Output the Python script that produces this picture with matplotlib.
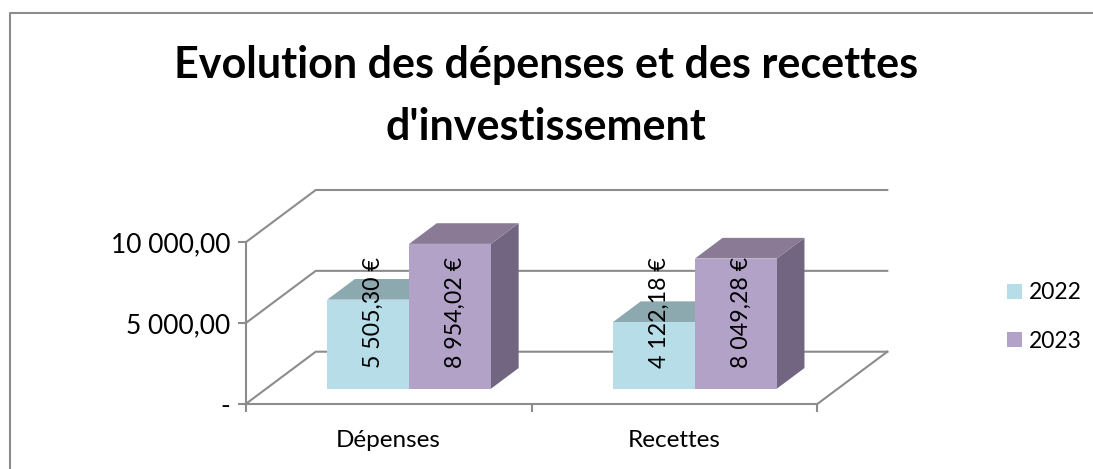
import matplotlib
matplotlib.use("Agg")
import matplotlib.pyplot as plt
from matplotlib.lines import Line2D
from matplotlib.patches import Polygon, Rectangle

categories = ["Dépenses", "Recettes"]
series_names = ["2022", "2023"]
values_2022 = [5505.30, 4122.18]
values_2023 = [8954.02, 8049.28]
labels_2022 = ["5 505,30 €", "4 122,18 €"]
labels_2023 = ["8 954,02 €", "8 049,28 €"]
y_ticks = [0, 5000, 10000]
y_tick_labels = ["-", "5 000,00", "10 000,00"]

W, H = 1093, 469
plt.rcParams["font.family"] = ["Lato", "DejaVu Sans"]
fig = plt.figure(figsize=(W / 100, H / 100), dpi=100)

# plot box in pixels, the front floor edge
ax = fig.add_axes([245.7 / W, 1 - 404 / H, 571.6 / W, 161.7 / H])
ax.set_xlim(0, 2)
ax.set_ylim(0, 10000)
ax.patch.set_visible(False)

grey = "#8c8c8c"
front = {"2022": "#b7dee8", "2023": "#b3a2c7"}
top = {"2022": "#8da9b0", "2023": "#8a7a96"}
side = {"2022": "#6f8a91", "2023": "#716582"}

# oblique depth of the floor, in data units
depth_x = 0.245
depth_y = 3234
bar_w = 0.2865
depth_start = 0.293
depth_end = 0.688


def shift(x, y, d):
    return (x + depth_x * d, y + depth_y * d)


def poly(points, color, z):
    ax.add_patch(Polygon(points, closed=True, facecolor=color, edgecolor="none",
                         clip_on=False, zorder=z))


# walls
for v in y_ticks:
    xs = [0, shift(0, v, 1)[0], shift(2, v, 1)[0]]
    ys = [v, shift(0, v, 1)[1], shift(2, v, 1)[1]]
    ax.plot(xs, ys, color=grey, lw=1.5, clip_on=False, zorder=1)
ax.plot([2, shift(2, 0, 1)[0]], [0, shift(2, 0, 1)[1]], color=grey, lw=1.5, clip_on=False, zorder=1)


def draw_bar(x0, v, name):
    a = shift(x0, 0, depth_start)
    b = shift(x0 + bar_w, 0, depth_start)
    c = shift(x0 + bar_w, v, depth_start)
    d = shift(x0, v, depth_start)
    e = shift(x0, v, depth_end)
    f = shift(x0 + bar_w, v, depth_end)
    g = shift(x0 + bar_w, 0, depth_end)
    poly([b, g, f, c], side[name], 3)
    poly([d, c, f, e], top[name], 3)
    poly([a, b, c, d], front[name], 3)


for i in range(len(categories)):
    x_mid = i + 0.5
    draw_bar(x_mid - bar_w, values_2022[i], "2022")
    draw_bar(x_mid, values_2023[i], "2023")

# labels sit at about the same height whatever the value
label_y = 5650
for i in range(len(categories)):
    x_mid = i + 0.5 + depth_x * depth_start
    ax.text(x_mid - bar_w / 2 + 0.019, label_y, labels_2022[i], rotation=90, ha="center", va="center",
            fontsize=16.7, color="black", zorder=5, clip_on=False)
    ax.text(x_mid + bar_w / 2 + 0.019, label_y, labels_2023[i], rotation=90, ha="center", va="center",
            fontsize=16.7, color="black", zorder=6, clip_on=False)

for s in ["top", "right"]:
    ax.spines[s].set_visible(False)
for s in ["left", "bottom"]:
    ax.spines[s].set_color(grey)
    ax.spines[s].set_linewidth(1.5)
ax.set_yticks(y_ticks)
ax.set_yticklabels(y_tick_labels, fontsize=19)
ax.set_xticks([0, 1, 2])
ax.set_xticklabels([])
ax.set_xticks([0.5, 1.5], minor=True)
ax.set_xticklabels(categories, minor=True, fontsize=17.5)
ax.tick_params(axis="x", which="major", length=6, width=1.5, color=grey)
ax.tick_params(axis="x", which="minor", length=0, pad=19)
ax.tick_params(axis="y", length=6, width=1.5, color=grey, pad=5)

fig.text(546 / W, 1 - 96 / H, "Evolution des dépenses et des recettes\nd'investissement",
         ha="center", va="center", fontsize=31, fontweight="bold", color="black", linespacing=1.66)

handles = [Rectangle((0, 0), 1, 1, facecolor=front[n], edgecolor="none") for n in series_names]
fig.legend(handles, series_names, loc="center left", bbox_to_anchor=(1007 / W, 1 - 317 / H),
           frameon=False, fontsize=16.5, handlelength=0.655, handleheight=0.655, handletextpad=0.3,
           labelspacing=1.2, borderpad=0, borderaxespad=0)

# chart frame, only the top and left edges are in the crop
fig.add_artist(Line2D([9.5 / W, 9.5 / W, 1], [0, 1 - 13.5 / H, 1 - 13.5 / H], transform=fig.transFigure,
                      color=grey, lw=1.5))

fig.savefig("out.png", dpi=100)
